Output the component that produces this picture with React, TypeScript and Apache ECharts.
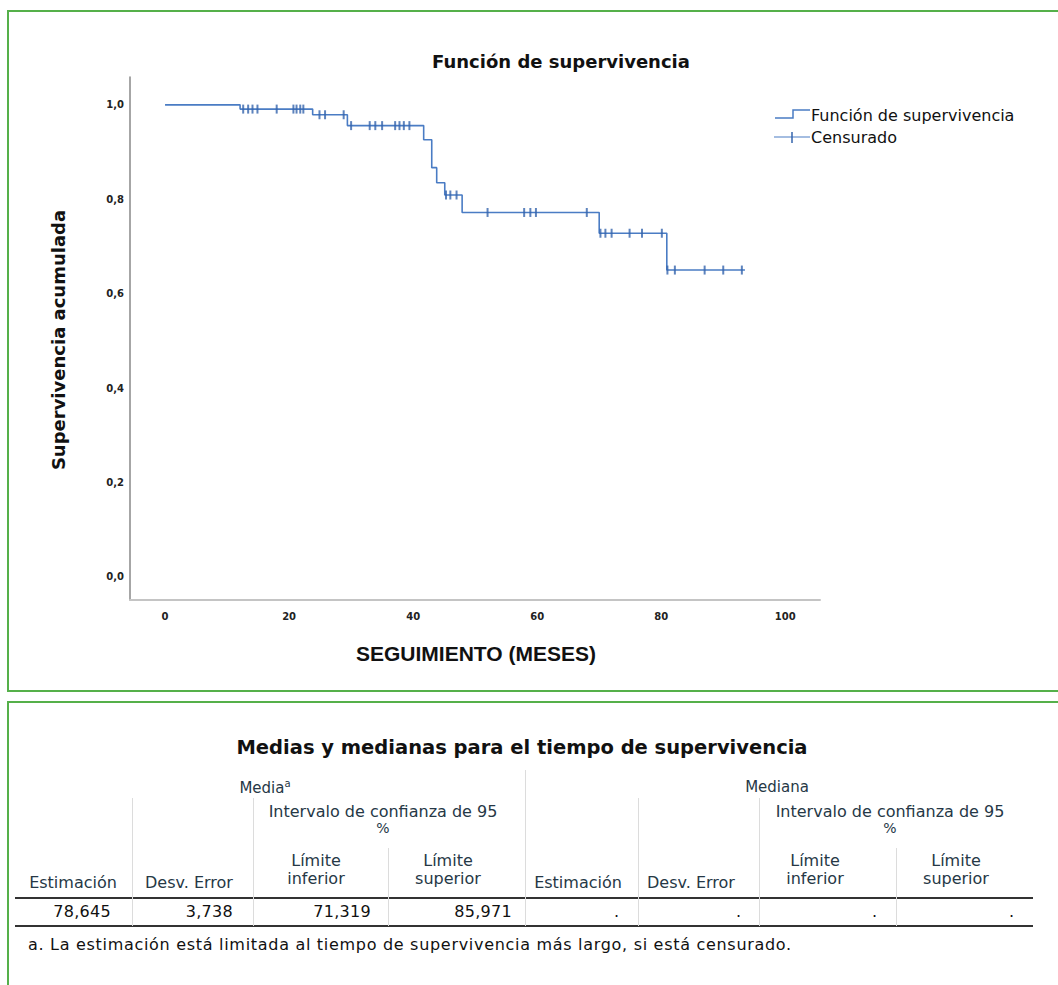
import React, { useEffect, useRef } from "react";
import * as echarts from "echarts";

const xTicks = [0, 20, 40, 60, 80, 100];
const yTicks = [0, 0.2, 0.4, 0.6, 0.8, 1.0];
const stepTimes = [0, 12.1, 23.8, 29.4, 41.7, 43.0, 43.8, 45.1, 47.9, 70.0, 80.9, 93.5];
const stepSurvival = [1.0, 0.991, 0.979, 0.956, 0.926, 0.867, 0.835, 0.809, 0.772, 0.728, 0.65, 0.65];
const censorTimes = [
  12.6, 13.4, 14.1, 14.9, 18.0, 20.7, 21.2, 21.8, 22.3,
  24.9, 25.8, 28.8,
  30.0, 33.0, 33.9, 35.0, 37.1, 37.8, 38.5, 39.4,
  45.3, 46.0, 47.0,
  52.0, 57.9, 58.9, 59.8, 68.0,
  70.2, 71.0, 72.0, 74.9, 76.9, 80.1,
  81.0, 82.2, 87.0, 90.0, 93.0,
];
const censorSurvival = [
  0.991, 0.991, 0.991, 0.991, 0.991, 0.991, 0.991, 0.991, 0.991,
  0.979, 0.979, 0.979,
  0.956, 0.956, 0.956, 0.956, 0.956, 0.956, 0.956, 0.956,
  0.809, 0.809, 0.809,
  0.772, 0.772, 0.772, 0.772, 0.772,
  0.728, 0.728, 0.728, 0.728, 0.728, 0.728,
  0.65, 0.65, 0.65, 0.65, 0.65,
];

const chartTitle = "Función de supervivencia";
const yName = "Supervivencia acumulada";
const xName = "SEGUIMIENTO (MESES)";
const legendNames = ["Función de supervivencia", "Censurado"];

const tableTitle = "Medias y medianas para el tiempo de supervivencia";
const groupNames = ["Media", "Mediana"];
const ciHeader = "Intervalo de confianza de 95";
const colHeaders = ["Estimación", "Desv. Error"];
const limitHeaders = [["Límite", "inferior"], ["Límite", "superior"]];
const mediaValues = ["78,645", "3,738", "71,319", "85,971"];
const medianaValues = [".", ".", ".", "."];
const footnote = "a. La estimación está limitada al tiempo de supervivencia más largo, si está censurado.";

const LINE = "#4a7cc4";
const MARK = "#3564ad";
const GREEN = "#55b04a";
const HEAD = "#263846";
const FONT = "'DejaVu Sans', Verdana, sans-serif";

function T(props: { x: number; y: number; text: string; align?: "center" | "right" | "left"; size?: number; weight?: any; color?: string; spacing?: number }) {
  const { x, y, text, align = "center", size = 16, weight = "normal", color = HEAD, spacing = 0 } = props;
  const tx = align === "center" ? "-50%" : align === "right" ? "-100%" : "0";
  return (
    <div
      style={{
        position: "absolute",
        left: x,
        top: y,
        transform: `translate(${tx}, -50%)`,
        whiteSpace: "nowrap",
        fontFamily: FONT,
        fontSize: size,
        fontWeight: weight,
        color,
        lineHeight: 1.0,
        letterSpacing: spacing,
      }}
    >
      {text}
    </div>
  );
}

function VL(props: { x: number; y1: number; y2: number }) {
  return <div style={{ position: "absolute", left: props.x, top: props.y1, width: 1, height: props.y2 - props.y1, background: "#dcdcdc" }} />;
}

function HL(props: { y: number }) {
  return <div style={{ position: "absolute", left: 15, top: props.y - 1, width: 1018, height: 2, background: "#333" }} />;
}

export default function App() {
  const ref = useRef<HTMLDivElement>(null);
  useEffect(() => {
    if (!ref.current) return;
    const chart = echarts.init(ref.current, null, { renderer: "svg" });
    const lineData = stepTimes.map((t, i) => [t, stepSurvival[i]]);
    const censorData = censorTimes.map((t, i) => [t, censorSurvival[i]]);
    chart.setOption({
      animation: false,
      grid: { left: 130, top: 77, width: 690, height: 523 },
      xAxis: {
        type: "value",
        min: -5.65,
        max: 105.6,
        splitLine: { show: false },
        axisTick: { show: false },
        axisLine: { show: true, onZero: false, lineStyle: { color: "#c4c4c4", width: 2 } },
        axisLabel: {
          customValues: xTicks,
          fontFamily: FONT,
          fontSize: 10,
          fontWeight: "bold",
          color: "#222",
          margin: 11,
        },
      },
      yAxis: {
        type: "value",
        min: -0.049,
        max: 1.059,
        splitLine: { show: false },
        axisTick: { show: false },
        axisLine: { show: true, onZero: false, lineStyle: { color: "#888", width: 1.5 } },
        axisLabel: {
          customValues: yTicks,
          formatter: (v: number) => v.toFixed(1).replace(".", ","),
          fontFamily: FONT,
          fontSize: 10,
          fontWeight: "bold",
          color: "#222",
          margin: 6,
        },
      },
      series: [
        {
          type: "line",
          step: "end",
          data: lineData,
          symbol: "none",
          lineStyle: { color: LINE, width: 1.6 },
          z: 2,
        },
        {
          type: "scatter",
          data: censorData,
          symbol: "rect",
          symbolSize: [2, 9],
          itemStyle: { color: MARK },
          z: 3,
        },
      ],
      graphic: [
        {
          type: "text",
          x: 561,
          y: 61,
          style: { text: chartTitle, font: `bold 18px ${FONT}`, fill: "#111", textAlign: "center", textVerticalAlign: "middle" },
        },
        {
          type: "text",
          x: 58,
          y: 340,
          rotation: Math.PI / 2,
          style: { text: yName, font: `bold 18px ${FONT}`, fill: "#111", textAlign: "center", textVerticalAlign: "middle" },
        },
        {
          type: "text",
          x: 476,
          y: 653,
          style: { text: xName, font: `bold 21px 'Liberation Sans', Arial, sans-serif`, fill: "#111", textAlign: "center", textVerticalAlign: "middle" },
        },
        {
          type: "polyline",
          shape: { points: [[775, 118], [793, 118], [793, 110], [810, 110]] },
          style: { stroke: LINE, lineWidth: 1.5, fill: "none" },
        },
        {
          type: "text",
          x: 811,
          y: 115,
          style: { text: legendNames[0], font: `16px ${FONT}`, fill: "#111", textAlign: "left", textVerticalAlign: "middle" },
        },
        {
          type: "line",
          shape: { x1: 774, y1: 137, x2: 810, y2: 137 },
          style: { stroke: LINE, lineWidth: 1.2 },
        },
        {
          type: "line",
          shape: { x1: 792, y1: 132, x2: 792, y2: 143 },
          style: { stroke: MARK, lineWidth: 1.5 },
        },
        {
          type: "text",
          x: 811,
          y: 137,
          style: { text: legendNames[1], font: `16px ${FONT}`, fill: "#111", textAlign: "left", textVerticalAlign: "middle" },
        },
      ],
    });
    return () => chart.dispose();
  }, []);

  const mediaRight = [111, 233, 371, 512];
  const medianaRight = [619, 741, 877, 1014];

  return (
    <div style={{ position: "absolute", left: 0, top: 0, width: 1058, height: 985, overflow: "hidden", background: "#fff" }}>
      <div style={{ position: "absolute", left: 7, top: 10, width: 1100, height: 678, borderLeft: `2px solid ${GREEN}`, borderTop: `2px solid ${GREEN}`, borderBottom: `2px solid ${GREEN}` }} />
      <div style={{ position: "absolute", left: 7, top: 701, width: 1100, height: 400, borderLeft: `2px solid ${GREEN}`, borderTop: `2px solid ${GREEN}` }} />
      <div ref={ref} style={{ position: "absolute", left: 0, top: 0, width: 1058, height: 688 }} />

      <T x={522} y={748} text={tableTitle} size={19.5} weight="bold" color="#111" />
      <div style={{ position: "absolute", left: 265, top: 787, transform: "translate(-50%, -50%)", whiteSpace: "nowrap", fontFamily: FONT, fontSize: 15, color: HEAD, lineHeight: 1.0 }}>
        {groupNames[0]}<sup style={{ fontSize: 10 }}>a</sup>
      </div>
      <T x={777} y={787} text={groupNames[1]} size={15} />

      <T x={383} y={812} text={ciHeader} />
      <T x={383} y={828} text="%" size={14} />
      <T x={890} y={812} text={ciHeader} />
      <T x={890} y={828} text="%" size={14} />

      <T x={316} y={861} text={limitHeaders[0][0]} />
      <T x={316} y={879} text={limitHeaders[0][1]} />
      <T x={448} y={861} text={limitHeaders[1][0]} />
      <T x={448} y={879} text={limitHeaders[1][1]} />
      <T x={815} y={861} text={limitHeaders[0][0]} />
      <T x={815} y={879} text={limitHeaders[0][1]} />
      <T x={956} y={861} text={limitHeaders[1][0]} />
      <T x={956} y={879} text={limitHeaders[1][1]} />

      <T x={73} y={883} text={colHeaders[0]} />
      <T x={189} y={883} text={colHeaders[1]} />
      <T x={578} y={883} text={colHeaders[0]} />
      <T x={691} y={883} text={colHeaders[1]} />

      <HL y={898} />
      {mediaValues.map((v, i) => (
        <T key={"a" + i} x={mediaRight[i]} y={912} text={v} align="right" size={16} color="#111" spacing={0.3} />
      ))}
      {medianaValues.map((v, i) => (
        <T key={"b" + i} x={medianaRight[i]} y={912} text={v} align="right" size={16} color="#111" />
      ))}
      <HL y={926} />

      <VL x={525} y1={770} y2={926} />
      <VL x={132} y1={798} y2={926} />
      <VL x={253} y1={798} y2={926} />
      <VL x={638} y1={798} y2={926} />
      <VL x={759} y1={798} y2={926} />
      <VL x={388} y1={848} y2={926} />
      <VL x={896} y1={848} y2={926} />

      <T x={28} y={945} text={footnote} align="left" size={16} color="#111" spacing={0.7} />
    </div>
  );
}
